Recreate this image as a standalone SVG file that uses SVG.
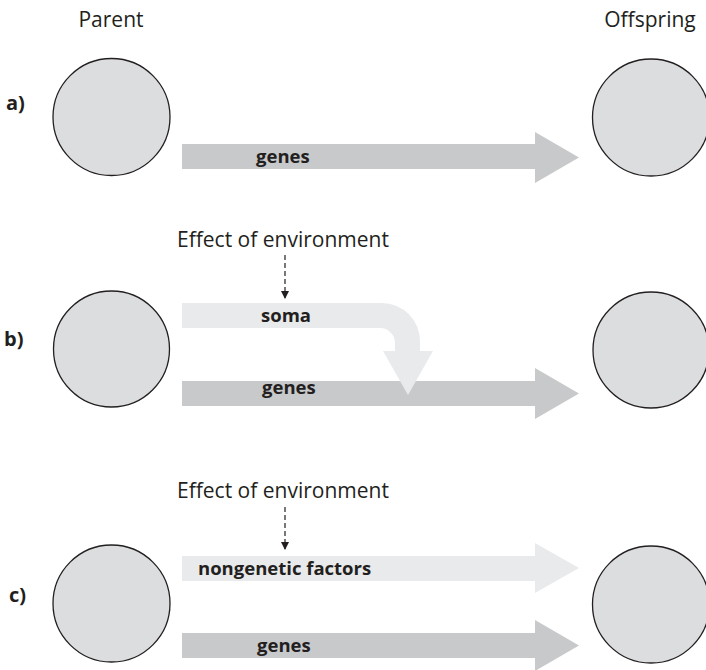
<svg xmlns="http://www.w3.org/2000/svg" width="706" height="670" viewBox="0 0 706 670">
<defs>
<style>
.cell{fill:#dcdddf;stroke:#231f20;stroke-width:1.3}
.gene{fill:#c8c9cb}
.light{fill:#e9eaeb}
.t{font-family:"Open Sans","Liberation Sans",sans-serif;font-size:21px;fill:#231f20}
.b{font-family:"Open Sans","Liberation Sans",sans-serif;font-size:18.5px;font-weight:bold;fill:#231f20}
.lbl{font-family:"Open Sans","Liberation Sans",sans-serif;font-size:20px;font-weight:bold;fill:#231f20}
.dash{stroke:#231f20;stroke-width:1.2;stroke-dasharray:5,3;fill:none}
</style>
<marker id="ah" markerWidth="8" markerHeight="8" refX="7" refY="4" orient="auto" markerUnits="userSpaceOnUse">
<path d="M0,0 L8,4 L0,8 Z" fill="#231f20"/>
</marker>
</defs>
<rect width="706" height="670" fill="#ffffff"/>
<text class="t" x="111" y="27" text-anchor="middle">Parent</text>
<text class="t" x="650" y="27" text-anchor="middle">Offspring</text>
<text class="lbl" x="6" y="110">a)</text>
<text class="lbl" x="4" y="346">b)</text>
<text class="lbl" x="9" y="602">c)</text>
<g id="parent-a"><circle class="cell" cx="111.5" cy="117" r="58.5"/></g>
<g id="offspring-a"><circle class="cell" cx="651" cy="117.5" r="58.5"/></g>
<g id="parent-b"><circle class="cell" cx="111.5" cy="349" r="58"/></g>
<g id="offspring-b"><circle class="cell" cx="651" cy="350" r="58"/></g>
<g id="parent-c"><circle class="cell" cx="111.5" cy="603.5" r="58.5"/></g>
<g id="offspring-c"><circle class="cell" cx="651" cy="604.5" r="58.5"/></g>
<g id="env-b"><text class="t" x="177" y="247">Effect of environment</text></g>
<g id="env-c"><text class="t" x="177" y="498">Effect of environment</text></g>
<g id="connectors">
<g id="genes-a"><path class="gene" d="M182,144 H535 V132 L579,157.5 L535,183 V169 H182 Z"/><text class="b" x="256" y="163">genes</text></g>
<g id="genes-b"><path class="gene" d="M182,381 H535 V368 L579,393.5 L535,419 V406 H182 Z"/><text class="b" x="262" y="394">genes</text></g>
<g id="soma-b"><path class="light" d="M182,303 H382 A38,38 0 0 1 420,341 V351 H433 L408,395 L383,351 H395 V343 A15,15 0 0 0 380,328 H182 Z"/><text class="b" x="261" y="322">soma</text></g>
<g id="nongenetic-c"><path class="light" d="M182,556 H535 V543 L579,568 L535,593 V581 H182 Z"/><text class="b" x="198" y="575">nongenetic factors</text></g>
<g id="genes-c"><path class="gene" d="M182,633 H535 V620 L579,645.5 L535,671 V658 H182 Z"/><text class="b" x="257" y="652">genes</text></g>
<line class="dash" x1="285" y1="255" x2="285" y2="298" marker-end="url(#ah)"/>
<line class="dash" x1="285" y1="507" x2="285" y2="549" marker-end="url(#ah)"/>
</g>
</svg>
